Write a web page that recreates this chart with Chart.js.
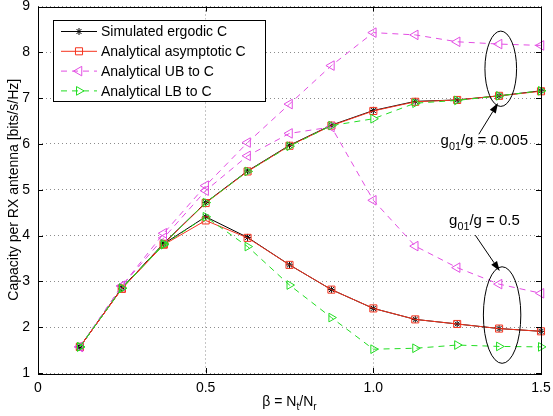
<!DOCTYPE html>
<html>
<head>
<meta charset="utf-8">
<script src="https://cdn.jsdelivr.net/npm/chart.js@4.4.0/dist/chart.umd.min.js"></script>
<style>
  html, body { margin: 0; padding: 0; background: #fff; }
</style>
</head>
<body>
<canvas id="capChart" width="553" height="416"></canvas>
<script>
// beta = Nt/Nr
const beta = [0.125, 0.25, 0.375, 0.5, 0.625, 0.75, 0.875, 1, 1.125, 1.25, 1.375, 1.5];

// g01/g = 0.005
const simWeak  = [1.57, 2.85, 3.83, 4.72, 5.41, 5.97, 6.41, 6.73, 6.93, 6.96, 7.05, 7.16];
const asymWeak = [1.57, 2.84, 3.82, 4.71, 5.40, 5.96, 6.40, 6.72, 6.92, 6.96, 7.05, 7.15];
const ubWeak   = [1.57, 2.90, 4.05, 5.09, 6.03, 6.87, 7.71, 8.43, 8.38, 8.23, 8.18, 8.15];
const lbWeak   = [1.57, 2.85, 3.82, 4.72, 5.40, 5.95, 6.40, 6.55, 6.89, 6.95, 7.05, 7.16];

// g01/g = 0.5
const simStrong  = [1.57, 2.85, 3.82, 4.41, 3.96, 3.36, 2.82, 2.41, 2.17, 2.07, 1.97, 1.91];
const asymStrong = [1.57, 2.84, 3.80, 4.33, 3.95, 3.36, 2.82, 2.41, 2.17, 2.07, 1.97, 1.91];
const ubStrong   = [1.57, 2.90, 3.95, 4.98, 5.74, 6.23, 6.37, 4.77, 3.77, 3.30, 2.94, 2.74];
const lbStrong   = [1.57, 2.85, 3.80, 4.41, 3.76, 2.92, 2.21, 1.52, 1.54, 1.61, 1.58, 1.57];

const legendLabels = ['Simulated ergodic C', 'Analytical asymptotic C', 'Analytical UB to C', 'Analytical LB to C'];
const xTicks = [0, 0.5, 1, 1.5];
const yTicks = [1, 2, 3, 4, 5, 6, 7, 8, 9];

const FONT = '"Liberation Sans", Arial, Helvetica, sans-serif';
const BLACK = '#000000';
const RED = '#f5341f';
const MAGENTA = '#e34ee3';
const GREEN = '#22dd22';

const styles = [
    { color: BLACK, pointStyle: 'star', radius: 3.5, rotation: 0, dash: [], order: 4 },
    { color: RED, pointStyle: 'rect', radius: 5, rotation: 0, dash: [], order: 3 },
    { color: MAGENTA, pointStyle: 'triangle', radius: 5.5, rotation: -90, dash: [6, 5], order: 2 },
    { color: GREEN, pointStyle: 'triangle', radius: 5, rotation: 90, dash: [6, 5], order: 1 }
];

function makeDataset(values, styleIndex, label) {
    const s = styles[styleIndex];
    return {
        label: label,
        data: beta.map((b, i) => ({ x: b, y: values[i] })),
        borderColor: s.color,
        backgroundColor: 'rgba(0,0,0,0)',
        borderWidth: 1,
        borderDash: s.dash,
        pointStyle: s.pointStyle,
        pointRadius: s.radius,
        pointRotation: s.rotation,
        pointBorderColor: s.color,
        pointBackgroundColor: 'rgba(0,0,0,0)',
        pointBorderWidth: 1,
        tension: 0,
        fill: false,
        clip: false,
        order: s.order
    };
}

const datasets = [
    makeDataset(simWeak, 0, legendLabels[0]),
    makeDataset(asymWeak, 1, legendLabels[1]),
    makeDataset(ubWeak, 2, legendLabels[2]),
    makeDataset(lbWeak, 3, legendLabels[3]),
    makeDataset(simStrong, 0, ''),
    makeDataset(asymStrong, 1, ''),
    makeDataset(ubStrong, 2, ''),
    makeDataset(lbStrong, 3, '')
];

// text with subscripts, parts = [[text, isSub], ...]
function drawRich(ctx, parts, x, y, size) {
    let cx = x;
    parts.forEach(p => {
        if (p[1]) {
            ctx.font = (size * 0.72) + 'px ' + FONT;
            ctx.fillText(p[0], cx, y + size * 0.32);
        } else {
            ctx.font = size + 'px ' + FONT;
            ctx.fillText(p[0], cx, y);
        }
        cx += ctx.measureText(p[0]).width;
    });
    return cx - x;
}

function richWidth(ctx, parts, size) {
    let w = 0;
    parts.forEach(p => {
        ctx.font = (p[1] ? size * 0.72 : size) + 'px ' + FONT;
        w += ctx.measureText(p[0]).width;
    });
    return w;
}

function drawArrow(ctx, x1, y1, x2, y2) {
    const ang = Math.atan2(y2 - y1, x2 - x1);
    const len = 10, wid = 3.5;
    const bx = x2 - len * Math.cos(ang), by = y2 - len * Math.sin(ang);
    ctx.beginPath();
    ctx.moveTo(x1, y1);
    ctx.lineTo(bx, by);
    ctx.stroke();
    ctx.beginPath();
    ctx.moveTo(x2, y2);
    ctx.lineTo(bx + wid * Math.sin(ang), by - wid * Math.cos(ang));
    ctx.lineTo(bx - wid * Math.sin(ang), by + wid * Math.cos(ang));
    ctx.closePath();
    ctx.fill();
}

// annotation positions in data units
const notes = [
    { ellipse: [1.380, 7.641, 0.0472, 0.822], arrow: [1.3146, 6.211, 1.3719, 6.891],
      text: [['g', false], ['01', true], ['/g = 0.005', false]], at: [1.2004, 5.983] },
    { ellipse: [1.384, 2.265, 0.0558, 1.054], arrow: [1.3042, 4.007, 1.377, 3.224],
      text: [['g', false], ['01', true], ['/g = 0.5', false]], at: [1.2258, 4.233] }
];

const decorPlugin = {
    id: 'decor',
    afterDatasetsDraw(chart) {
        const ctx = chart.ctx;
        const area = chart.chartArea;
        const xs = chart.scales.x, ys = chart.scales.y;
        ctx.save();

        // frame + inward ticks
        ctx.strokeStyle = '#000';
        ctx.lineWidth = 1;
        ctx.setLineDash([]);
        ctx.strokeRect(Math.round(area.left) + 0.5, Math.round(area.top) + 0.5,
            Math.round(area.right - area.left), Math.round(area.bottom - area.top));
        ctx.beginPath();
        xTicks.forEach(v => {
            const px = Math.round(xs.getPixelForValue(v)) + 0.5;
            ctx.moveTo(px, area.bottom); ctx.lineTo(px, area.bottom - 5);
            ctx.moveTo(px, area.top); ctx.lineTo(px, area.top + 5);
        });
        yTicks.forEach(v => {
            const py = Math.round(ys.getPixelForValue(v)) + 0.5;
            ctx.moveTo(area.left, py); ctx.lineTo(area.left + 5, py);
            ctx.moveTo(area.right, py); ctx.lineTo(area.right - 5, py);
        });
        ctx.stroke();

        // ellipses, arrows, labels
        ctx.fillStyle = '#000';
        ctx.textBaseline = 'alphabetic';
        ctx.textAlign = 'left';
        notes.forEach(n => {
            const [ex, ey, erx, ery] = n.ellipse;
            const cx = xs.getPixelForValue(ex), cy = ys.getPixelForValue(ey);
            const rx = xs.getPixelForValue(ex + erx) - cx;
            const ry = cy - ys.getPixelForValue(ey + ery);
            ctx.beginPath();
            ctx.ellipse(cx, cy, rx, ry, 0, 0, Math.PI * 2);
            ctx.stroke();
            const [ax1, ay1, ax2, ay2] = n.arrow;
            drawArrow(ctx, xs.getPixelForValue(ax1), ys.getPixelForValue(ay1),
                xs.getPixelForValue(ax2), ys.getPixelForValue(ay2));
            drawRich(ctx, n.text, xs.getPixelForValue(n.at[0]), ys.getPixelForValue(n.at[1]), 15);
        });

        // x-axis title with subscripts
        const xTitle = [['\u03B2 = N', false], ['t', true], ['/N', false], ['r', true]];
        const tw = richWidth(ctx, xTitle, 14);
        drawRich(ctx, xTitle, (area.left + area.right) / 2 - tw / 2, 406, 14);

        // legend box
        const lx = area.left + 15, ly = area.top + 13;
        const lw = 212, lh = 81;
        ctx.fillStyle = '#fff';
        ctx.fillRect(lx, ly, lw, lh);
        ctx.strokeStyle = '#000';
        ctx.strokeRect(Math.round(lx) + 0.5, Math.round(ly) + 0.5, lw, lh);
        legendLabels.forEach((label, i) => {
            const s = styles[i];
            const ry = ly + 12 + i * 19.8;
            ctx.strokeStyle = s.color;
            ctx.lineWidth = 1;
            ctx.setLineDash(s.dash);
            ctx.beginPath();
            ctx.moveTo(lx + 8, ry);
            ctx.lineTo(lx + 44, ry);
            ctx.stroke();
            ctx.setLineDash([]);
            ctx.fillStyle = 'rgba(0,0,0,0)';
            Chart.helpers.drawPoint(ctx, {
                pointStyle: s.pointStyle, rotation: s.rotation, radius: s.radius, borderWidth: 1
            }, lx + 26, ry);
            ctx.fillStyle = '#000';
            ctx.font = '14px ' + FONT;
            ctx.textBaseline = 'middle';
            ctx.fillText(label, lx + 48, ry + 1);
        });
        ctx.restore();
    }
};

const capChart = new Chart(document.getElementById('capChart'), {
    type: 'line',
    data: { datasets: datasets },
    options: {
        responsive: false,
        animation: false,
        devicePixelRatio: 1,
        layout: { padding: { left: 0, top: 5, right: 12, bottom: 0 } },
        plugins: {
            legend: { display: false },
            tooltip: { enabled: false }
        },
        scales: {
            x: {
                type: 'linear',
                min: 0,
                max: 1.5,
                afterBuildTicks: s => { s.ticks = xTicks.map(v => ({ value: v })); },
                afterFit: s => { s.height = 43; s.paddingLeft = 0; s.paddingRight = 0; },
                ticks: { color: '#000', font: { family: FONT, size: 14 }, padding: 7, maxRotation: 0 },
                grid: { color: 'rgba(0,0,0,0.45)', drawTicks: false },
                border: { display: false, dash: [1, 3] }
            },
            y: {
                type: 'linear',
                min: 1,
                max: 9,
                afterBuildTicks: s => { s.ticks = yTicks.map(v => ({ value: v })); },
                afterFit: s => { s.width = 38; s.paddingTop = 0; s.paddingBottom = 0; },
                ticks: { color: '#000', font: { family: FONT, size: 14 }, padding: 8 },
                grid: { color: 'rgba(0,0,0,0.45)', drawTicks: false },
                border: { display: false, dash: [1, 3] },
                title: {
                    display: true,
                    text: 'Capacity per RX antenna [bits/s/Hz]',
                    color: '#000',
                    font: { family: FONT, size: 14 },
                    padding: { top: 6, bottom: 0 }
                }
            }
        }
    },
    plugins: [decorPlugin]
});
</script>
</body>
</html>
